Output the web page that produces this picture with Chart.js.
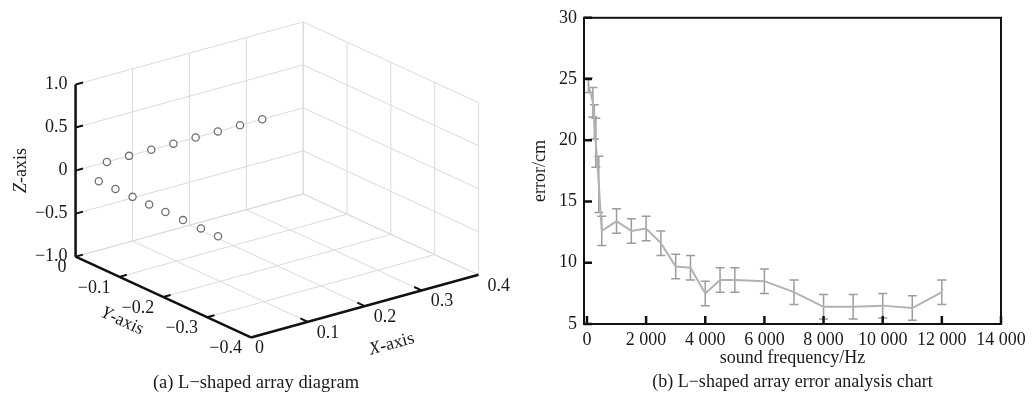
<!DOCTYPE html>
<html>
<head>
<meta charset="utf-8">
<script src="https://cdn.jsdelivr.net/npm/chart.js@4.4.1/dist/chart.umd.min.js"></script>
<style>
  html, body { margin: 0; padding: 0; background: #fff; overflow: hidden; }
  #wrap { position: relative; width: 1033px; height: 395px; }
  #arrayChart { position: absolute; left: 0; top: 0; }
  #errorChart { position: absolute; left: 520px; top: 0; }
</style>
</head>
<body>
<div id="wrap">
  <canvas id="arrayChart" width="520" height="395"></canvas>
  <canvas id="errorChart" width="513" height="395"></canvas>
</div>
<script>
// ---- (a) L-shaped array, microphone positions in metres ----
const armXPos = [0.055, 0.094, 0.133, 0.172, 0.211, 0.25, 0.289, 0.328];   // arm along X (y = 0, z = 0)
const armYPos = [-0.053, -0.091, -0.13, -0.168, -0.205, -0.245, -0.286, -0.325]; // arm along Y (x = 0, z = 0)
const xTicks3d = [0, 0.1, 0.2, 0.3, 0.4];
const yTicks3d = [0, -0.1, -0.2, -0.3, -0.4];
const zTicks3d = [-1.0, -0.5, 0, 0.5, 1.0];

// ---- (b) error vs sound frequency ----
const freqHz = [50, 200, 250, 300, 400, 500, 1000, 1500, 2000, 2500, 3000, 3500, 4000, 4500, 5000, 6000, 7000, 8000, 9000, 10000, 11000, 12000];
const errorCm = [24.5, 23.1, 21.5, 19.8, 16.4, 12.6, 13.4, 12.6, 12.8, 11.6, 9.7, 9.6, 7.5, 8.6, 8.6, 8.5, 7.6, 6.4, 6.4, 6.5, 6.3, 7.6];
const errorSpread = [0.6, 1.2, 1.4, 2.0, 2.3, 1.2, 1.0, 1.0, 1.0, 1.0, 1.0, 1.0, 1.0, 1.0, 1.0, 1.0, 1.0, 1.0, 1.0, 1.0, 1.0, 1.0];
const freqTicks = [0, 2000, 4000, 6000, 8000, 10000, 12000, 14000];
const errorTicks = [5, 10, 15, 20, 25, 30];

const FONT = "'Liberation Serif', 'Times New Roman', serif";
Chart.defaults.font.family = FONT;
Chart.defaults.font.size = 18;
Chart.defaults.color = '#1a1a1a';

// projection of the 3D box onto the flat chart plane (units per metre / per z unit)
const VIEW = { x: [575, 159], y: [-443, 205], z: [0, 87.3] };

function project(x, y, z) {
    return {
        x: VIEW.x[0] * x + VIEW.y[0] * y + VIEW.z[0] * z,
        y: VIEW.x[1] * x + VIEW.y[1] * y + VIEW.z[1] * z
    };
}

function fmtSigned(v) {
    if (v === 0) return '0';
    return (v < 0 ? '\u2212' : '') + Math.abs(v).toFixed(1);
}

function fmtThousands(v) {
    return String(v).replace(/\B(?=(\d{3})+(?!\d))/g, ' ');
}

// draws the 3D box, grid, axes and labels through the chart's scales
const box3dPlugin = {
    id: 'box3d',
    beforeDatasetsDraw(chart) {
        const { ctx } = chart;
        const sx = chart.scales.x, sy = chart.scales.y;
        const px = (x, y, z) => {
            const p = project(x, y, z);
            return [sx.getPixelForValue(p.x), sy.getPixelForValue(p.y)];
        };
        const seg = (a, b) => {
            const p = px(a[0], a[1], a[2]), q = px(b[0], b[1], b[2]);
            ctx.moveTo(p[0], p[1]);
            ctx.lineTo(q[0], q[1]);
        };
        const xMax = xTicks3d[xTicks3d.length - 1];
        const yMin = yTicks3d[yTicks3d.length - 1];
        const zMin = zTicks3d[0], zMax = zTicks3d[zTicks3d.length - 1];

        ctx.save();
        // grid on the back walls and floor
        ctx.strokeStyle = '#dadada';
        ctx.lineWidth = 1;
        ctx.beginPath();
        xTicks3d.forEach(x => {
            seg([x, 0, zMin], [x, 0, zMax]);
            seg([x, 0, zMin], [x, yMin, zMin]);
        });
        yTicks3d.forEach(y => {
            seg([xMax, y, zMin], [xMax, y, zMax]);
            seg([0, y, zMin], [xMax, y, zMin]);
        });
        zTicks3d.forEach(z => {
            seg([0, 0, z], [xMax, 0, z]);
            seg([xMax, 0, z], [xMax, yMin, z]);
        });
        ctx.stroke();

        // axes
        ctx.strokeStyle = '#111';
        ctx.lineWidth = 2.5;
        ctx.beginPath();
        seg([0, 0, zMin], [0, 0, zMax]);
        seg([0, 0, zMin], [0, yMin, zMin]);
        seg([0, yMin, zMin], [xMax, yMin, zMin]);
        ctx.stroke();

        // tick marks
        ctx.lineWidth = 2;
        ctx.beginPath();
        zTicks3d.forEach(z => seg([0, 0, z], [0.013, 0, z]));
        yTicks3d.slice(1, -1).forEach(y => seg([0, y, zMin], [0.013, y, zMin]));
        xTicks3d.slice(1, -1).forEach(x => seg([x, yMin, zMin], [x, yMin + 0.017, zMin]));
        ctx.stroke();

        // tick labels
        ctx.fillStyle = '#1a1a1a';
        ctx.font = '18px ' + FONT;
        ctx.textBaseline = 'middle';
        ctx.textAlign = 'right';
        zTicks3d.forEach(z => {
            const p = px(0, 0, z);
            ctx.fillText(fmtSigned(z), p[0] - 8, p[1]);
        });
        yTicks3d.forEach(y => {
            const p = px(0, y, zMin);
            ctx.fillText(fmtSigned(y), p[0] - 9, p[1] + 11);
        });
        ctx.textAlign = 'left';
        xTicks3d.forEach(x => {
            const p = px(x, yMin, zMin);
            ctx.fillText(fmtSigned(x), p[0] + (x === 0 ? 4 : 9), p[1] + 11);
        });

        // axis titles: italic letter + "-axis"
        const axisTitle = (letter, cx, cy, angle) => {
            ctx.save();
            ctx.translate(cx, cy);
            ctx.rotate(angle);
            ctx.textAlign = 'left';
            ctx.font = 'italic 18px ' + FONT;
            const w1 = ctx.measureText(letter).width;
            ctx.font = '18px ' + FONT;
            const w2 = ctx.measureText('-axis').width;
            const start = -(w1 + w2) / 2;
            ctx.font = 'italic 18px ' + FONT;
            ctx.fillText(letter, start, 0);
            ctx.font = '18px ' + FONT;
            ctx.fillText('-axis', start + w1, 0);
            ctx.restore();
        };
        const o = px(0, 0, 0);
        axisTitle('Z', o[0] - 54, o[1], -Math.PI / 2);
        const y0 = px(0, 0, zMin), y1 = px(0, yMin, zMin);
        const ym = px(0, yMin / 2, zMin);
        axisTitle('Y', ym[0] - 41, ym[1] + 24, Math.atan2(y1[1] - y0[1], y1[0] - y0[0]));
        const x1 = px(xMax, yMin, zMin);
        const xm = px(xMax / 2, yMin, zMin);
        axisTitle('X', xm[0] + 27, xm[1] + 38, Math.atan2(x1[1] - y1[1], x1[0] - y1[0]));
        ctx.restore();
    }
};

const pointStyle = {
    showLine: false,
    pointRadius: 3.6,
    pointBorderWidth: 1.3,
    pointBorderColor: '#707070',
    pointBackgroundColor: '#ffffff'
};

new Chart(document.getElementById('arrayChart'), {
    type: 'scatter',
    data: {
        datasets: [
            Object.assign({ data: armXPos.map(x => project(x, 0, 0)) }, pointStyle),
            Object.assign({ data: armYPos.map(y => project(0, y, 0)) }, pointStyle)
        ]
    },
    options: {
        responsive: false,
        animation: false,
        layout: { padding: { right: 8 } },
        plugins: {
            legend: { display: false },
            tooltip: { enabled: false },
            title: {
                display: true,
                position: 'bottom',
                text: '(a) L\u2212shaped array diagram',
                font: { size: 18.5, weight: 'normal' },
                color: '#1a1a1a',
                padding: { top: 1, bottom: 1 }
            }
        },
        scales: {
            x: { type: 'linear', display: false, min: -71, max: 441 },
            y: { type: 'linear', display: false, min: -203.1, max: 167.7 }
        }
    },
    plugins: [box3dPlugin]
});

// ---- (b) error bars and frame ----
const errorBarPlugin = {
    id: 'errorBars',
    beforeDatasetsDraw(chart) {
        const { ctx } = chart;
        const sx = chart.scales.x, sy = chart.scales.y;
        ctx.save();
        ctx.strokeStyle = '#9c9c9c';
        ctx.lineWidth = 1.5;
        ctx.beginPath();
        freqHz.forEach((f, i) => {
            const x = sx.getPixelForValue(f);
            const top = sy.getPixelForValue(errorCm[i] + errorSpread[i]);
            const bot = sy.getPixelForValue(errorCm[i] - errorSpread[i]);
            ctx.moveTo(x, top); ctx.lineTo(x, bot);
            ctx.moveTo(x - 4.5, top); ctx.lineTo(x + 4.5, top);
            ctx.moveTo(x - 4.5, bot); ctx.lineTo(x + 4.5, bot);
        });
        ctx.stroke();
        ctx.restore();
    }
};

const framePlugin = {
    id: 'frame',
    afterDraw(chart) {
        const { ctx, chartArea: a } = chart;
        const sx = chart.scales.x, sy = chart.scales.y;
        ctx.save();
        ctx.strokeStyle = '#111';
        ctx.lineWidth = 2;
        ctx.strokeRect(a.left, a.top, a.right - a.left, a.bottom - a.top);
        ctx.lineWidth = 2.5;
        ctx.beginPath();
        freqTicks.forEach(v => {
            const x = sx.getPixelForValue(v);
            ctx.moveTo(x, a.bottom); ctx.lineTo(x, a.bottom - 8);
        });
        errorTicks.forEach(v => {
            const y = sy.getPixelForValue(v);
            ctx.moveTo(a.left, y); ctx.lineTo(a.left + 8, y);
        });
        ctx.stroke();
        ctx.restore();
    }
};

new Chart(document.getElementById('errorChart'), {
    type: 'scatter',
    data: {
        datasets: [{
            data: freqHz.map((f, i) => ({ x: f, y: errorCm[i] })),
            showLine: true,
            borderColor: '#b2b2b2',
            borderWidth: 2,
            pointRadius: 0,
            tension: 0
        }]
    },
    options: {
        responsive: false,
        animation: false,
        layout: { padding: { top: 13, right: 32, left: 0, bottom: 0 } },
        plugins: {
            legend: { display: false },
            tooltip: { enabled: false }
        },
        scales: {
            x: {
                type: 'linear',
                min: -100,
                max: 14000,
                afterBuildTicks: s => { s.ticks = freqTicks.map(v => ({ value: v })); },
                afterFit: s => { s.height = 71; },
                grid: { display: false, drawTicks: false },
                border: { display: false },
                ticks: { autoSkip: false, maxRotation: 0, padding: 5, callback: v => fmtThousands(v) },
                title: {
                    display: true,
                    text: ['sound frequency/Hz', '(b) L\u2212shaped array error analysis chart'],
                    font: { size: 18, lineHeight: 1.3 },
                    padding: { top: 0, bottom: 1.5 }
                }
            },
            y: {
                type: 'linear',
                min: 5,
                max: 30,
                afterBuildTicks: s => { s.ticks = errorTicks.map(v => ({ value: v })); },
                afterFit: s => { s.width = 64; },
                grid: { display: false, drawTicks: false },
                border: { display: false },
                ticks: { padding: 7 },
                title: {
                    display: true,
                    text: 'error/cm',
                    font: { size: 18 },
                    padding: { top: 9, bottom: 0 }
                }
            }
        }
    },
    plugins: [errorBarPlugin, framePlugin]
});
</script>
</body>
</html>
